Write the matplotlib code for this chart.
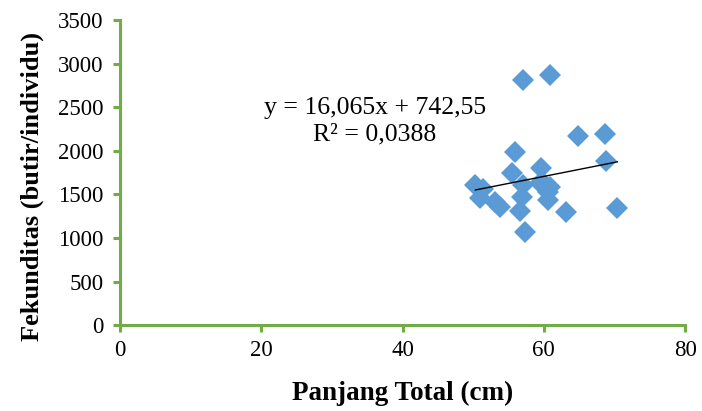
import numpy as np
import matplotlib.pyplot as plt

# panjang total (cm) vs fekunditas (butir/individu)
panjang = [50.3, 51.4, 51.0, 53.1, 53.8, 55.5, 55.9, 57.1, 56.9, 56.6, 57.3, 57.1,
           60.8, 59.6, 59.5, 60.2, 60.8, 60.6, 60.6, 63.1, 64.9, 68.6, 68.8, 70.4]
fekunditas = [1610, 1565, 1460, 1415, 1360, 1745, 1990, 1607, 1473, 1308, 1068, 2811,
              2869, 1798, 1633, 1607, 1590, 1530, 1434, 1296, 2169, 2188, 1882, 1339]

# trendline from the chart label
slope, intercept = 16.065, 742.55
eq_text = "y = 16,065x + 742,55"
r2_text = "R² = 0,0388"

x_ticks = [0, 20, 40, 60, 80]
y_ticks = [0, 500, 1000, 1500, 2000, 2500, 3000, 3500]

plt.rcParams['font.family'] = ['Liberation Serif', 'DejaVu Serif']
green = '#70AD47'

fig = plt.figure(figsize=(7.02, 4.11), dpi=100)
ax = fig.add_axes([0.171, 0.209, 0.805, 0.742])

ax.plot(panjang, fekunditas, 'D', color='#5B9BD5', markersize=11, markeredgewidth=0)

xl = np.array([min(panjang), max(panjang)])
ax.plot(xl, slope * xl + intercept, color='black', linewidth=1)

ax.text(36.1, 2490, eq_text, ha='center', va='center', fontsize=18.5)
ax.text(36.1, 2190, r2_text, ha='center', va='center', fontsize=18.5)

ax.set_xlim(0, 80)
ax.set_ylim(0, 3500)
ax.set_xticks(x_ticks)
ax.set_yticks(y_ticks)
ax.tick_params(labelsize=16.5, color=green, width=2.2, length=5, direction='out')
ax.tick_params(axis='x', pad=6)
ax.tick_params(axis='y', pad=7)

for s in ['top', 'right']:
    ax.spines[s].set_visible(False)
for s in ['left', 'bottom']:
    ax.spines[s].set_color(green)
    ax.spines[s].set_linewidth(2.2)

ax.set_xlabel("Panjang Total (cm)", fontsize=19.5, fontweight='bold', labelpad=14)
ax.set_ylabel("Fekunditas (butir/individu)", fontsize=19, fontweight='bold')
ax.yaxis.set_label_coords(-0.135, 0.456)

fig.savefig('out.png', dpi=100)
